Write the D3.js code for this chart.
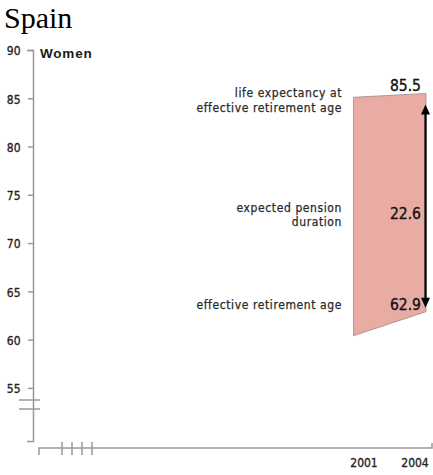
<!DOCTYPE html>
<html>
<head>
<meta charset="utf-8">
<script src="https://cdn.jsdelivr.net/npm/d3@7"></script>
<style>
  html, body { margin: 0; padding: 0; background: #fff; }
  svg { display: block; }
</style>
</head>
<body>
<div id="chart"></div>
<script>
const title = "Spain";
const panelLabel = "Women";
const years = [2001, 2004];
const yearLabels = ["2001", "2004"];
const lifeExpectancy = [85.1, 85.5];
const retirementAge = [60.4, 62.9];
const pensionDuration = [22.6];
const yTicks = [55, 60, 65, 70, 75, 80, 85, 90];
const annotationTop = ["life expectancy at", "effective retirement age"];
const annotationMid = ["expected pension", "duration"];
const annotationBottom = ["effective retirement age"];

const W = 433, H = 475;
const svg = d3.select("#chart").append("svg").attr("width", W).attr("height", H);

const narrow = "'DejaVu Sans Condensed', 'DejaVu Sans', sans-serif";

const y = d3.scaleLinear().domain([49.5, 90]).range([441, 50]);
const x = d3.scaleLinear().domain([2001, 2004]).range([353.5, 426]);
const xLabel = d3.scaleLinear().domain([2001, 2004]).range([364, 415]);

// Title
svg.append("text").attr("x", 4).attr("y", 28)
  .attr("font-family", "'Liberation Serif', 'Times New Roman', serif")
  .attr("font-size", 30).attr("fill", "#000").text(title);

// Y axis
const yAxis = d3.axisLeft(y).tickValues(yTicks).tickSize(5).tickSizeOuter(6).tickFormat(d3.format("d"));
const gy = svg.append("g").attr("transform", "translate(33,0)").call(yAxis);
gy.select(".domain").attr("stroke", "#999").attr("stroke-width", 1.5);
gy.selectAll(".tick line").attr("stroke", "#999").attr("stroke-width", 1.5);
gy.selectAll(".tick text").attr("x", -12).attr("dy", "0.4em")
  .attr("font-family", narrow).attr("font-size", 12).attr("letter-spacing", 0.3)
  .attr("fill", "#222").attr("stroke", "#222").attr("stroke-width", 0.3);

// axis break marks
[400, 409].forEach(v => {
  svg.append("line").attr("x1", 19).attr("x2", 40).attr("y1", v).attr("y2", v)
    .attr("stroke", "#999").attr("stroke-width", 1.5);
});

// X axis
const xAxisY = 448;
svg.append("path")
  .attr("d", `M39,455 V${xAxisY} H432 V443`)
  .attr("fill", "none").attr("stroke", "#999").attr("stroke-width", 1.5);
[62, 72, 82, 92].forEach(v => {
  svg.append("line").attr("x1", v).attr("x2", v).attr("y1", 442).attr("y2", 455)
    .attr("stroke", "#999").attr("stroke-width", 1.5);
});
svg.selectAll(".xlab").data(years).enter().append("text")
  .attr("class", "xlab")
  .attr("x", d => xLabel(d)).attr("y", 467)
  .attr("text-anchor", "middle")
  .attr("font-family", narrow).attr("font-size", 12).attr("letter-spacing", 0)
  .attr("fill", "#222").attr("stroke", "#222").attr("stroke-width", 0.3)
  .text((d, i) => yearLabels[i]);

// Panel label
svg.append("text").attr("x", 40).attr("y", 58)
  .attr("font-family", "'Liberation Sans', Arial, sans-serif").attr("font-weight", "bold")
  .attr("font-size", 13.5).attr("letter-spacing", 0.8).attr("fill", "#1a1a1a").text(panelLabel);

// Polygon
const pts = [
  [x(years[0]), y(lifeExpectancy[0])],
  [x(years[1]), y(lifeExpectancy[1])],
  [x(years[1]), y(retirementAge[1])],
  [x(years[0]), y(retirementAge[0])]
];
svg.append("path")
  .attr("d", d3.line()(pts) + "Z")
  .attr("fill", "#e9aca5").attr("stroke", "#a08a88").attr("stroke-width", 0.8);

// Arrow
const ax = x(years[1]) - 0.5;
const yTop = y(lifeExpectancy[1]) + 11;
const yBot = y(retirementAge[1]) - 4;
svg.append("line").attr("x1", ax).attr("x2", ax).attr("y1", yTop + 8).attr("y2", yBot - 8)
  .attr("stroke", "#000").attr("stroke-width", 2.2);
svg.append("path").attr("d", `M${ax},${yTop} L${ax - 4.5},${yTop + 10} L${ax + 4.5},${yTop + 10} Z`).attr("fill", "#000");
svg.append("path").attr("d", `M${ax},${yBot} L${ax - 4.5},${yBot - 10} L${ax + 4.5},${yBot - 10} Z`).attr("fill", "#000");

// Value labels
const valStyle = sel => sel.attr("text-anchor", "end").attr("font-family", narrow)
  .attr("font-size", 15.5).attr("letter-spacing", 0).attr("fill", "#111")
  .attr("stroke", "#111").attr("stroke-width", 0.35);
svg.append("text").attr("x", 421).attr("y", y(lifeExpectancy[1]) - 2.5).call(valStyle)
  .text(d3.format(".1f")(lifeExpectancy[1]));
svg.append("text").attr("x", 421).attr("y", (y(lifeExpectancy[1]) + y(retirementAge[1])) / 2 + 16).call(valStyle)
  .text(d3.format(".1f")(pensionDuration[0]));
svg.append("text").attr("x", 421).attr("y", y(retirementAge[1]) - 1.5).call(valStyle)
  .text(d3.format(".1f")(retirementAge[1]));

// Annotations
const annStyle = sel => sel.attr("text-anchor", "end").attr("font-family", narrow)
  .attr("font-size", 12).attr("letter-spacing", 0.6).attr("fill", "#2a2a2a")
  .attr("stroke", "#2a2a2a").attr("stroke-width", 0.25);
const annX = 342;
annotationTop.forEach((t, i) => {
  svg.append("text").attr("x", annX).attr("y", 97 + i * 15).call(annStyle).text(t);
});
annotationMid.forEach((t, i) => {
  svg.append("text").attr("x", annX).attr("y", 212 + i * 14).call(annStyle).text(t);
});
annotationBottom.forEach((t, i) => {
  svg.append("text").attr("x", annX).attr("y", 309 + i * 14).call(annStyle).text(t);
});
</script>
</body>
</html>
